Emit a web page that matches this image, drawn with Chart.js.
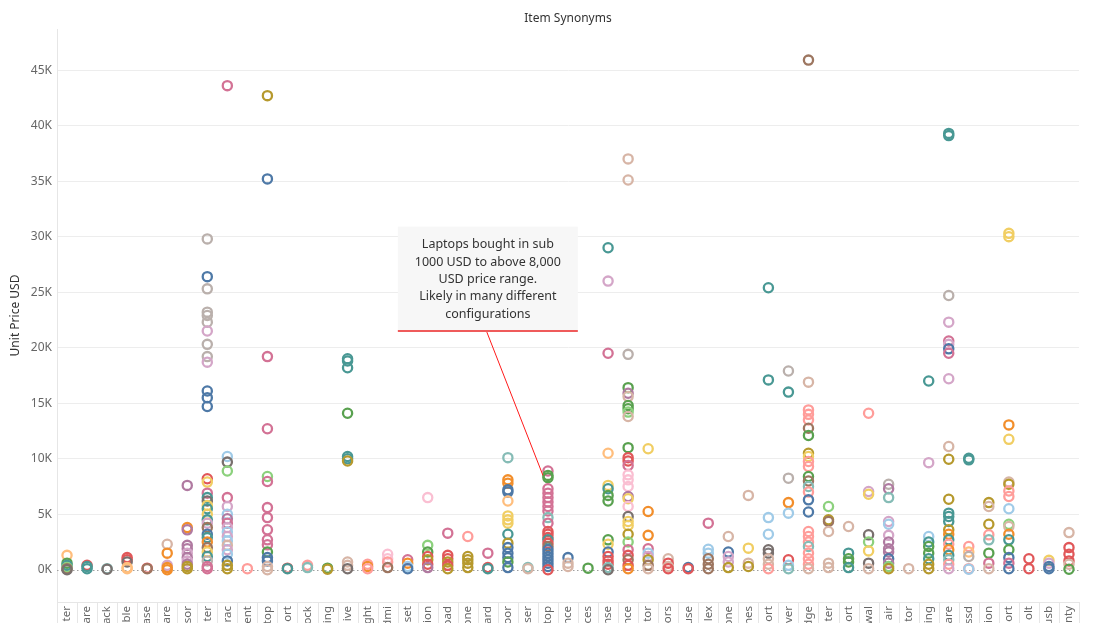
<!DOCTYPE html>
<html>
<head>
<meta charset="utf-8">
<title>Item Synonyms</title>
<script src="https://cdn.jsdelivr.net/npm/chart.js@4.4.1/dist/chart.umd.min.js"></script>
<style>
  html, body { margin: 0; padding: 0; background: #fff; overflow: hidden; }
  #wrap { width: 1100px; height: 623px; }
</style>
</head>
<body>
<div id="wrap"><canvas id="chart"></canvas></div>
<script>
// category labels (only the visible end of each name shows under the axis)
const categories = ['ter','are','ack','ble','ase','are','sor','ter','rac','ent','top','ort','ock','ing','ive','ght','dmi','set','ion','oad','one','ard','oor','ser','top','nce','ces','nse','nce','tor','ors','use','lex','one','nes','ort','ver','dge','ter','ort','wal','air','tor','ing','are','ssd','ion','ort','olt','usb','nty'];

// unit prices (USD) per category
const prices = [
  [1300,600,400,200,100,0],
  [400,300,100],
  [100,50],
  [1100,900,700,200,100],
  [150,100],
  [2300,1500,400,200,0],
  [7600,3800,3600,2200,1900,1500,1100,800,500,300,100],
  [29800,26400,25300,23200,22900,22300,21500,20300,19200,18700,16100,15500,14700,8200,7900,6900,6500,6200,5800,5500,5000,4500,4200,3800,3200,2900,2500,2000,1600,1200,800,300,100],
  [43600,10200,9700,8900,6500,5700,5000,4600,4200,3800,3400,3000,2600,2200,1800,1400,800,400,100],
  [100],
  [42700,35200,19200,12700,8400,7950,5600,4700,3600,2700,2250,1600,1100,800,300,0],
  [150,100],
  [400,200],
  [150,50],
  [19000,18800,18200,14100,10200,10000,9800,700,400,100],
  [500,300,100],
  [1400,1000,700,200],
  [900,600,300,100],
  [6500,2200,1600,1200,900,500,200],
  [3300,1300,1000,700,400,100],
  [3000,1200,900,600,200],
  [1500,200,100],
  [10100,8100,7800,7200,7000,6200,4850,4500,4200,3200,2400,2000,1500,1100,700,200],
  [200,100],
  [8900,8500,8300,7300,6900,6500,6100,5700,5300,4700,4200,3450,3200,2900,2700,2400,2100,1800,1500,1200,900,600,300,0],
  [1100,600,300],
  [150],
  [29000,26000,19500,10500,7600,7300,6700,6200,2700,2300,1600,1200,800,500,200,0],
  [37000,35100,19400,16400,15900,15600,14800,14500,14200,13800,11000,10100,9800,9400,8550,8100,7500,6600,6400,5700,4800,4350,4000,3200,2500,1800,1300,900,400,100],
  [10900,5250,3100,1900,1500,1200,900,400,100],
  [1000,600,300,100],
  [200,100],
  [4200,1850,1500,1000,500,100],
  [3000,1600,1200,700,200],
  [6700,1950,600,300],
  [25400,17100,4700,3200,1800,1500,1000,500,100],
  [17900,16000,8250,6050,5100,900,400,100],
  [45900,16900,14400,14000,13500,12750,12100,10500,10200,9750,9300,8400,8000,7500,7000,6300,5200,3450,3000,2500,2100,1500,1000,500,100],
  [5700,4500,4350,3450,600,200],
  [3900,1500,1000,700,200],
  [14100,7050,6800,3150,2500,1700,600,100],
  [7700,7300,6500,4350,4100,3100,2500,1900,1600,1000,600,300,100],
  [100],
  [17000,9650,3000,2500,2100,1500,1000,500,100],
  [39300,39100,24700,22300,20600,20300,19900,19500,17200,11100,9950,6350,5100,4800,4350,3600,3200,2700,2300,1800,1300,900,500,100],
  [10050,9900,2100,1600,1200,100,50],
  [6050,5700,4100,3150,2700,1500,600,100],
  [30300,30000,13050,11750,7900,7700,7100,6600,5500,4100,3900,3200,2700,1800,1100,600,100],
  [1000,100],
  [850,600,300,100],
  [3350,2000,1400,800,500,50]
];

// item key of each point (same order as prices), picks the colour
const itemKeys = [
  ['lo','g','t','lg','br','gy'],
  ['r','t','t'],
  ['lt','gy'],
  ['r','r','gy','lo','lo'],
  ['r','br'],
  ['lbr','o','lpu','o','o'],
  ['pu','o','pu','pu','pu','lpu','pu','lpu','pu','gd','gd'],
  ['lgy','b','lgy','lgy','lgy','lgy','lpu','lgy','lgy','lpu','b','b','b','r','y','ro','t','gy','y','t','y','t','lpu','br','b','t','o','br','y','t','lgy','ro','ro'],
  ['ro','lb','gy','lg','ro','lpu','lb','pu','ro','lpu','lb','lpu','lb','lbr','lpu','lb','b','gd','gd'],
  ['pk'],
  ['gd','b','ro','ro','lg','ro','ro','ro','ro','ro','ro','g','b','b','lbr','lbr'],
  ['r','t'],
  ['pk','lt'],
  ['g','gd'],
  ['t','t','t','g','t','t','gd','lbr','lbr','gy'],
  ['pk','o','pk'],
  ['lp','lp','pk','br'],
  ['ro','o','lb','b'],
  ['lp','lg','g','r','gd','r','pu'],
  ['ro','r','r','gd','r','gd'],
  ['pk','gd','gd','gd','gd'],
  ['ro','r','t'],
  ['lt','o','o','b','b','lo','y','y','y','t','gd','b','b','b','g','b'],
  ['lt','lbr'],
  ['ro','g','g','ro','ro','ro','ro','ro','ro','lt','ro','r','r','r','t','r','br','b','b','b','b','b','b','r'],
  ['b','lbr','lbr'],
  ['g'],
  ['t','lpu','ro','lo','y','t','g','g','g','y','b','r','r','r','lt','gy'],
  ['lbr','lbr','lgy','g','pu','lbr','g','g','lg','lbr','g','r','r','ro','lp','lp','lp','pu','y','lp','gy','y','y','gd','lg','ro','r','br','r','o'],
  ['y','o','o','ro','lb','lpu','gd','br','lbr'],
  ['lbr','r','lbr','r'],
  ['b','r'],
  ['ro','lb','lb','br','br','br'],
  ['lbr','b','lpu','lpu','gd'],
  ['lbr','y','lbr','gd'],
  ['t','t','lb','lb','gy','gy','lbr','lbr','pk'],
  ['lgy','t','lgy','o','lb','r','lb','lt'],
  ['br','lbr','pk','pk','pk','br','g','gd','y','pk','pk','g','br','lt','pk','b','b','pk','pk','pk','lt','pk','pk','pk','lbr'],
  ['lg','gd','br','lbr','lbr','lbr'],
  ['lbr','t','g','g','t'],
  ['pk','lpu','y','gy','lg','y','gy','lbr'],
  ['lgy','pu','lt','lpu','lb','lpu','pu','pu','pu','b','pu','lg','gd'],
  ['lbr'],
  ['t','lpu','lb','t','g','g','t','gd','gd'],
  ['t','t','lgy','lpu','ro','lpu','b','ro','lpu','lbr','gd','gd','t','t','t','gd','o','t','pk','o','t','lt','pk','lpu'],
  ['t','t','pk','lo','lgy','pk','lb'],
  ['gd','lbr','gd','pk','lt','g','ro','lbr'],
  ['y','y','o','y','lbr','gd','pk','pk','lb','lg','lbr','o','t','g','b','ro','b'],
  ['r','r'],
  ['y','lpu','b','b'],
  ['lbr','r','r','r','lbr','g']
];

const yTicks = [0,5000,10000,15000,20000,25000,30000,35000,40000,45000];

const noteLines = ['Laptops bought in sub','1000 USD to above 8,000','USD price range.','Likely in many different','configurations'];

// tableau 20 style colours
const palette = {
  b:'#4e79a7', lb:'#a0cbe8', o:'#f28e2b', lo:'#ffbe7d', g:'#59a14f', lg:'#8cd17d',
  gd:'#b6992d', y:'#f1ce63', t:'#499894', lt:'#86bcb6', r:'#e15759', pk:'#ff9d9a',
  gy:'#79706e', lgy:'#bab0ac', ro:'#d37295', lp:'#fabfd2', pu:'#b07aa1', lpu:'#d4a6c8',
  br:'#9d7660', lbr:'#d7b5a6'
};

const points = [];
const colors = [];
prices.forEach((list, i) => {
  list.forEach((p, j) => {
    points.push({ x: i, y: p });
    colors.push(palette[itemKeys[i][j]]);
  });
});

// extra bits: dotted zero line, title, label separators, the note
const extras = {
  id: 'extras',
  beforeDatasetsDraw(chart) {
    const { ctx, chartArea: a, scales: { y } } = chart;
    const y0 = Math.round(y.getPixelForValue(0)) + 0.5;
    ctx.save();
    ctx.strokeStyle = '#a0a0a0';
    ctx.lineWidth = 1;
    ctx.setLineDash([1.5, 2.5]);
    ctx.beginPath();
    ctx.moveTo(a.left, y0);
    ctx.lineTo(a.right, y0);
    ctx.stroke();
    ctx.restore();
  },
  afterDraw(chart) {
    const { ctx, chartArea: a, scales: { x, y } } = chart;
    ctx.save();

    // separators between the category labels
    ctx.strokeStyle = '#e6e6e6';
    ctx.lineWidth = 1;
    for (let i = 0; i <= categories.length; i++) {
      const px = Math.round(x.getPixelForValue(i - 0.5)) + 0.5;
      ctx.beginPath();
      ctx.moveTo(px, a.bottom);
      ctx.lineTo(px, chart.height);
      ctx.stroke();
    }

    // title
    ctx.fillStyle = '#333';
    ctx.font = '12px "Noto Sans", sans-serif';
    ctx.textAlign = 'center';
    ctx.textBaseline = 'middle';
    ctx.fillText('Item Synonyms', (a.left + a.right) / 2, 19);

    // note box
    const cx = x.getPixelForValue(21);
    const top = y.getPixelForValue(30900);
    const bottom = y.getPixelForValue(21500);
    const w = 180;
    ctx.fillStyle = '#f7f7f7';
    ctx.fillRect(cx - w / 2, top, w, bottom - top);
    ctx.strokeStyle = '#ef5b5b';
    ctx.lineWidth = 2;
    ctx.beginPath();
    ctx.moveTo(cx - w / 2, bottom);
    ctx.lineTo(cx + w / 2, bottom);
    ctx.stroke();

    ctx.strokeStyle = '#ff1a1a';
    ctx.lineWidth = 1;
    ctx.beginPath();
    ctx.moveTo(cx - 1, bottom + 1);
    ctx.lineTo(x.getPixelForValue(24) - 5, y.getPixelForValue(8500));
    ctx.stroke();

    ctx.fillStyle = '#333';
    ctx.font = '12.5px "Noto Sans", sans-serif';
    noteLines.forEach((line, k) => {
      ctx.fillText(line, cx, top + 18 + k * 17.4);
    });
    ctx.restore();
  }
};

Chart.defaults.font.family = '"Noto Sans", sans-serif';

new Chart(document.getElementById('chart'), {
  type: 'scatter',
  data: {
    datasets: [{
      data: points,
      pointBorderColor: colors,
      pointBackgroundColor: 'rgba(0,0,0,0)',
      pointRadius: 4.6,
      pointBorderWidth: 2.3,
      pointHoverRadius: 4.6
    }]
  },
  options: {
    responsive: true,
    maintainAspectRatio: false,
    animation: false,
    layout: { padding: { top: 29, right: 21, left: 0, bottom: 0 } },
    plugins: {
      legend: { display: false },
      tooltip: { enabled: false },
      title: { display: false }
    },
    scales: {
      x: {
        type: 'linear',
        min: -0.5,
        max: categories.length - 0.5,
        afterBuildTicks(s) { s.ticks = categories.map((c, i) => ({ value: i })); },
        grid: { display: false, drawTicks: false },
        border: { color: '#e6e6e6' },
        ticks: {
          autoSkip: false,
          minRotation: 90,
          maxRotation: 90,
          color: '#666',
          font: { size: 11.5 },
          padding: 4,
          callback: v => categories[v]
        },
        afterFit(s) { s.height = 21; }
      },
      y: {
        min: -2900,
        max: 48700,
        afterBuildTicks(s) { s.ticks = yTicks.map(v => ({ value: v })); },
        grid: {
          drawTicks: false,
          color: c => (c.tick && c.tick.value === 0) ? 'rgba(0,0,0,0)' : '#ededed'
        },
        border: { color: '#e6e6e6' },
        ticks: {
          color: '#666',
          font: { size: 12 },
          padding: 5,
          callback: v => (v / 1000) + 'K'
        },
        title: {
          display: true,
          text: 'Unit Price USD',
          color: '#333',
          font: { size: 12 },
          padding: { top: 8, bottom: 0 }
        },
        afterFit(s) { s.width = 57; }
      }
    }
  },
  plugins: [extras]
});
</script>
</body>
</html>
